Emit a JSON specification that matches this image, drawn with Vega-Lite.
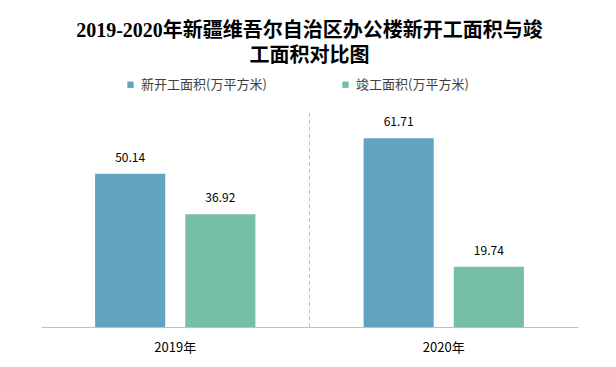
{
  "$schema": "https://vega.github.io/schema/vega-lite/v6.json",
  "width": 537,
  "height": 214,
  "autosize": {"type": "none"},
  "padding": {"left": 41, "top": 113, "right": 38, "bottom": 40},
  "background": "white",
  "title": {
    "text": ["2019-2020年新疆维吾尔自治区办公楼新开工面积与竣", "工面积对比图"],
    "font": "Liberation Serif, Noto Sans CJK SC",
    "fontSize": 20,
    "fontWeight": "bold",
    "color": "#000000",
    "anchor": "middle",
    "lineHeight": 25,
    "baseline": "bottom",
    "offset": -8
  },
  "config": {
    "view": {"stroke": null},
    "font": "Noto Sans CJK SC",
    "axis": {"grid": false}
  },
  "data": {
    "values": [
      {"year": "2019年", "series": "新开工面积(万平方米)", "value": 50.14},
      {"year": "2019年", "series": "竣工面积(万平方米)", "value": 36.92},
      {"year": "2020年", "series": "新开工面积(万平方米)", "value": 61.71},
      {"year": "2020年", "series": "竣工面积(万平方米)", "value": 19.74}
    ]
  },
  "layer": [
    {
      "mark": {"type": "bar"},
      "encoding": {
        "x": {
          "field": "year", "type": "nominal",
          "scale": {"paddingInner": 0, "paddingOuter": 0},
          "axis": {"title": null, "labelAngle": 0, "ticks": false, "domainColor": "#BFBFBF", "domainWidth": 1, "labelFontSize": 13, "labelColor": "#000000", "labelPadding": 14, "labelFont": "Noto Sans CJK SC"}
        },
        "xOffset": {
          "field": "series", "type": "nominal",
          "sort": ["新开工面积(万平方米)", "竣工面积(万平方米)"],
          "scale": {"paddingInner": 0.222, "paddingOuter": 0.6}
        },
        "y": {"field": "value", "type": "quantitative", "scale": {"domain": [0, 70]}, "axis": null},
        "color": {
          "field": "series", "type": "nominal",
          "sort": ["新开工面积(万平方米)", "竣工面积(万平方米)"],
          "scale": {"domain": ["新开工面积(万平方米)", "竣工面积(万平方米)"], "range": ["#62A3C1", "#76BFA5"]},
          "legend": {
            "title": null, "orient": "none", "direction": "horizontal",
            "legendX": 83, "legendY": -35,
            "symbolType": "square", "symbolSize": 40, "symbolStrokeWidth": 0,
            "labelFontSize": 13, "labelColor": "#404040", "labelFont": "Noto Sans CJK SC",
            "columnPadding": 72, "labelOffset": 4
          }
        }
      }
    },
    {
      "mark": {"type": "text", "dy": -9, "fontSize": 12, "color": "#000000", "baseline": "bottom"},
      "encoding": {
        "x": {"field": "year", "type": "nominal"},
        "xOffset": {"field": "series", "type": "nominal", "sort": ["新开工面积(万平方米)", "竣工面积(万平方米)"]},
        "y": {"field": "value", "type": "quantitative"},
        "text": {"field": "value", "type": "quantitative", "format": ".2f"}
      }
    },
    {
      "data": {"values": [{"year": "2019年"}]},
      "mark": {"type": "rule", "color": "#BFBFBF", "strokeDash": [4, 3], "strokeWidth": 1},
      "encoding": {
        "x": {"field": "year", "type": "nominal", "bandPosition": 1}
      }
    }
  ]
}
